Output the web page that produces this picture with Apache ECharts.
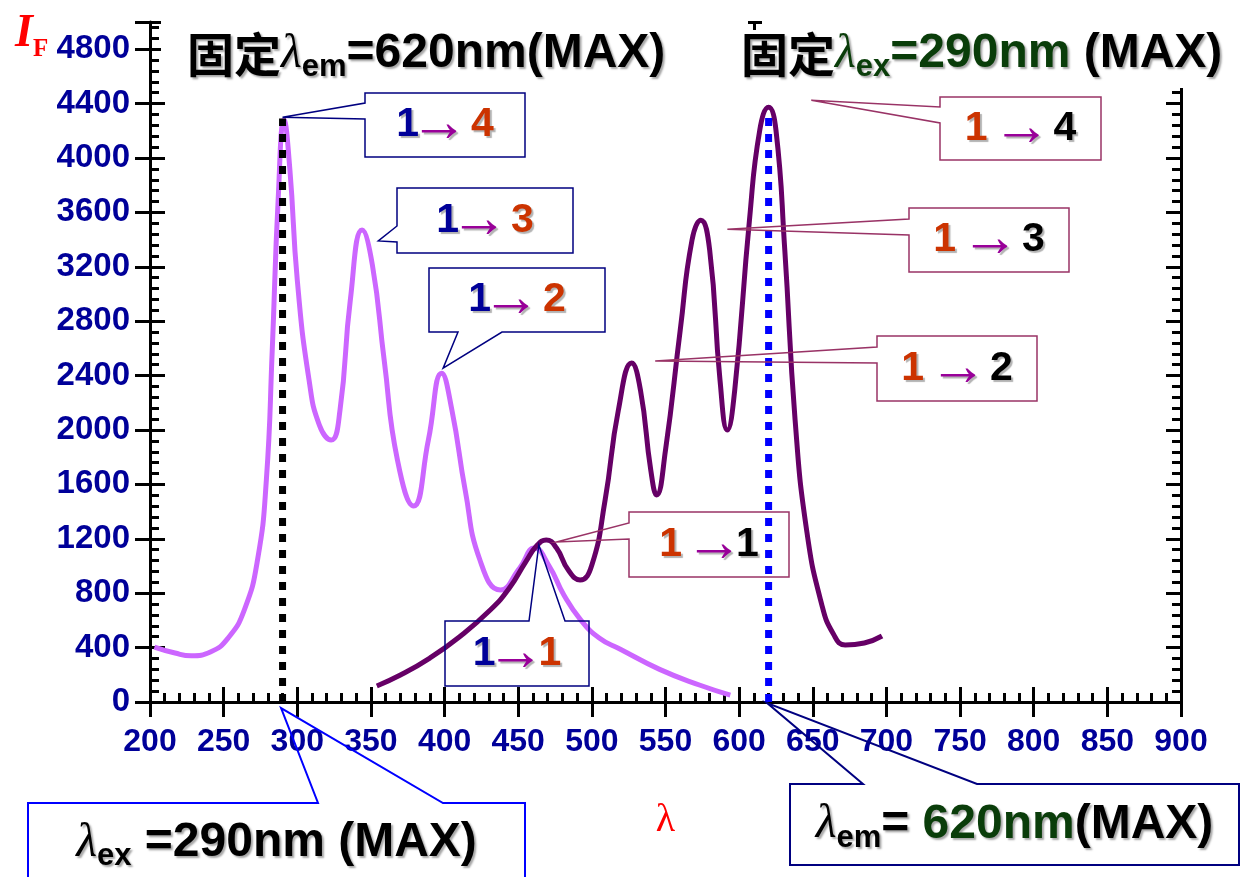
<!DOCTYPE html>
<html><head><meta charset="utf-8">
<script src="https://cdn.jsdelivr.net/npm/echarts@6/dist/echarts.min.js"></script>
<style>html,body{margin:0;padding:0;background:#fff}#c{width:1242px;height:877px}</style>
</head><body><div id="c"></div>
<script>
// ---- data ----
const xMin = 200, xMax = 900, xStep = 50;
const yMin = 0, yMax = 5000, yStep = 400;
// excitation spectrum (fixed λem = 620 nm)
const exWavelength = [203,217,228,241,253,264,273,279,283,287,291,295,300,308,315,323,329,336,344,351,359,368,379,389,398,405,414,424,438,451,461,471,481,492,505,519,546,573,594];
const exIntensity  = [404,360,340,368,470,676,1044,1632,2587,3690,4280,3911,3102,2367,2036,1926,2146,2955,3470,3212,2514,1779,1441,1926,2418,2146,1558,1044,823,985,1132,1000,787,610,470,390,240,125,51];
// emission spectrum (fixed λex = 290 nm)
const emWavelength = [354,370,390,410,431,444,455,463,469,476,484,492,500,509,518,527,533,540,544,550,560,568,574,580,587,592,597,607,614,620,625,631,638,646,656,664,672,685,697];
const emIntensity  = [118,198,323,478,676,838,1029,1154,1191,1132,970,897,1007,1485,2146,2492,2293,1705,1522,1852,2734,3396,3543,3322,2367,2000,2293,3543,4205,4374,4205,3322,2073,1250,720,500,419,434,485];
// maxima markers
const exMaxWavelength = 290, exMaxIntensity = 4290;
const emMaxWavelength = 620, emMaxIntensity = 4340;
// callout anchor points [wavelength, intensity]
const calloutTips = {
  L4:[290,4300], L3:[355,3390], L2:[399,2455], L1:[464,1155],
  EX:[289,-45], EM:[619,-7],
  R4:[649,4425], R3:[592,3477], R2:[543,2507], R1:[476,1176]
};

// ---- chart ----
const chart = echarts.init(document.getElementById('c'));
const SANS = "'Liberation Sans', Arial, sans-serif";
const SERIF = "'Liberation Serif', 'Times New Roman', serif";
const CJK = "'Noto Sans CJK SC', sans-serif";
const pair = (xs, ys) => xs.map((x, i) => [x, ys[i]]);
const tickStyle = {color:'#000', width:3};
const xCommon = {type:'value', min:xMin, max:xMax, interval:xStep, splitLine:{show:false}};
const yCommon = {type:'value', min:yMin, max:yMax, interval:yStep, splitLine:{show:false}};

chart.setOption({
  animation:false,
  backgroundColor:'#fff',
  grid:{left:150, right:61, top:22, bottom:175, outerBoundsMode:'none'},
  xAxis:[
    Object.assign({}, xCommon, {position:'bottom',
      axisLine:{onZero:false, lineStyle:tickStyle},
      axisTick:{inside:true, length:15, lineStyle:tickStyle},
      minorTick:{show:true, splitNumber:5, length:9, lineStyle:tickStyle},
      axisLabel:{color:'#000099', fontFamily:SANS, fontWeight:'bold', fontSize:32, margin:24,
        formatter:v => String(v)},
      name:'λ', nameLocation:'middle', nameGap:98,
      nameTextStyle:{color:'#ff0000', fontFamily:SERIF, fontSize:40}}),
    Object.assign({}, xCommon, {position:'bottom',
      axisLine:{show:false, onZero:false},
      axisTick:{inside:false, length:15, lineStyle:tickStyle},
      axisLabel:{show:false}}),
    Object.assign({}, xCommon, {position:'top',
      axisLine:{onZero:false, lineStyle:tickStyle},
      axisTick:{inside:true, length:12, lineStyle:tickStyle},
      minorTick:{show:true, splitNumber:5, length:8, lineStyle:tickStyle},
      axisLabel:{show:false}})
  ],
  yAxis:[
    Object.assign({}, yCommon, {position:'left',
      axisLine:{onZero:false, lineStyle:tickStyle},
      axisTick:{inside:true, length:15, lineStyle:tickStyle},
      minorTick:{show:true, splitNumber:5, length:9, lineStyle:tickStyle},
      axisLabel:{color:'#000099', fontFamily:SANS, fontWeight:'bold', fontSize:33, margin:20, showMaxLabel:false,
        formatter:v => String(v)}}),
    Object.assign({}, yCommon, {position:'left',
      axisLine:{show:false, onZero:false},
      axisTick:{inside:false, length:15, lineStyle:tickStyle},
      axisLabel:{show:false}}),
    Object.assign({}, yCommon, {position:'right',
      axisLine:{onZero:false, lineStyle:tickStyle},
      axisTick:{inside:true, length:15, lineStyle:tickStyle},
      minorTick:{show:true, splitNumber:5, length:9, lineStyle:tickStyle},
      axisLabel:{show:false}})
  ],
  series:[
    {type:'line', name:'excitation', data:pair(exWavelength, exIntensity), smooth:0.5, symbol:'none',
     lineStyle:{color:'#CC66FF', width:5}, z:2},
    {type:'line', name:'emission', data:pair(emWavelength, emIntensity), smooth:0.5, symbol:'none',
     lineStyle:{color:'#660066', width:5}, z:3},
    {type:'line', name:'exMax', data:[[exMaxWavelength, 0],[exMaxWavelength, exMaxIntensity]], symbol:'none',
     lineStyle:{color:'#000000', width:7, type:[8,8], cap:'butt'}, z:4},
    {type:'line', name:'emMax', data:[[emMaxWavelength, 0],[emMaxWavelength, emMaxIntensity]], symbol:'none',
     lineStyle:{color:'#0000FF', width:7, type:[8,8], cap:'butt'}, z:4}
  ]
});

// ---- annotations ----
const shadow = {textShadowColor:'rgba(0,0,0,0.35)', textShadowOffsetX:2, textShadowOffsetY:2, textShadowBlur:2};
const big = (fill, extra) => Object.assign({fill, fontFamily:SANS, fontWeight:'bold', fontSize:48}, shadow, extra||{});
const richTitle = {
  cn: Object.assign({fill:'#000', fontFamily:CJK, fontWeight:'bold', fontSize:47}, shadow),
  lam: Object.assign({fill:'#000', fontFamily:SERIF, fontStyle:'italic', fontSize:48}, shadow),
  lamg: Object.assign({fill:'#0a3d0a', fontFamily:SERIF, fontStyle:'italic', fontSize:48}, shadow),
  sub: big('#000', {fontSize:31, padding:[27,0,0,0]}),
  subg: big('#0a3d0a', {fontSize:31, padding:[27,0,0,0]}),
  t: big('#000'),
  tg: big('#0a3d0a')
};
const cShadow = {textShadowColor:'rgba(0,0,0,0.3)', textShadowOffsetX:2, textShadowOffsetY:2, textShadowBlur:1};
const arrowStyle = (l, r) => Object.assign({fill:'#990099', fontFamily:SANS, fontWeight:'normal', fontSize:58,
  lineHeight:41, width:40, padding:[0, r, 0, l]}, cShadow);
const richCallout = {
  n: Object.assign({fill:'#000099', fontFamily:SANS, fontWeight:'bold', fontSize:41}, cShadow),
  o: Object.assign({fill:'#CC3300', fontFamily:SANS, fontWeight:'bold', fontSize:41}, cShadow),
  k: Object.assign({fill:'#000000', fontFamily:SANS, fontWeight:'bold', fontSize:41}, cShadow),
  a: arrowStyle(0, 12),
  ar: arrowStyle(14, 12),
  at: arrowStyle(0, 3),
  ar1: arrowStyle(12, 2)
};
const NAVY = '#000080', MAROON = '#993366', BLUE = '#0000FF';
const callouts = [
  {id:'L4', box:[365,93,160,64], edge:'left', base:[103,119], stroke:NAVY, lw:1.5, text:'{n|1}{a|→}{o|4}', rich:richCallout},
  {id:'L3', box:[397,188,176,65], edge:'left', base:[226,242], stroke:NAVY, lw:1.5, text:'{n|1}{a|→}{o|3}', rich:richCallout},
  {id:'L2', box:[429,268,176,64], edge:'bottom', base:[458,502], stroke:NAVY, lw:1.5, text:'{n|1}{a|→}{o|2}', rich:richCallout},
  {id:'L1', box:[445,621,144,65], edge:'top', base:[529,565], stroke:NAVY, lw:1.5, text:'{n|1}{at|→}{o|1}', rich:richCallout},
  {id:'R4', box:[940,97,161,63], edge:'left', base:[107,123], stroke:MAROON, lw:1.5, text:'{o|1}{ar|→}{k|4}', rich:richCallout},
  {id:'R3', box:[909,208,160,64], edge:'left', base:[219,235], stroke:MAROON, lw:1.5, text:'{o|1}{ar|→}{k|3}', rich:richCallout},
  {id:'R2', box:[877,336,160,65], edge:'left', base:[347,363], stroke:MAROON, lw:1.5, text:'{o|1}{ar|→}{k|2}', rich:richCallout},
  {id:'R1', box:[629,512,160,65], edge:'left', base:[523,539], stroke:MAROON, lw:1.5, text:'{o|1}{ar1|→}{k|1}', rich:richCallout},
  {id:'EX', box:[28,803,497,100], edge:'top', base:[318,443], stroke:BLUE, lw:2, text:'{lam|λ}{sub|ex}{t| =290nm (MAX)}', rich:richTitle, textY:843},
  {id:'EM', box:[790,784,449,81], edge:'top', base:[863,977], stroke:NAVY, lw:2, text:'{lam|λ}{sub|em}{t|= }{tg|620nm}{t|(MAX)}', rich:richTitle}
];
function outline(c, tip){
  const [x0,y0,w,h] = c.box, x1 = x0+w, y1 = y0+h, [b1,b2] = c.base;
  if (c.edge === 'left') return [[x0,y0],[x1,y0],[x1,y1],[x0,y1],[x0,b2],tip,[x0,b1]];
  if (c.edge === 'top') return [[x0,y0],[b1,y0],tip,[b2,y0],[x1,y0],[x1,y1],[x0,y1]];
  return [[x0,y0],[x1,y0],[x1,y1],[b2,y1],tip,[b1,y1],[x0,y1]];
}
const gfx = [
  // white title boxes (they hide the top frame like in the slide)
  {type:'rect', shape:{x:161,y:0,width:587,height:88}, style:{fill:'#fff'}, z:50},
  {type:'rect', shape:{x:762,y:0,width:480,height:88}, style:{fill:'#fff'}, z:50},
  {type:'text', z:60, style:{x:187, y:54, align:'left', verticalAlign:'middle',
    text:'{cn|固定}{lam|λ}{sub|em}{t|=620nm(MAX)}', rich:richTitle}},
  {type:'text', z:60, style:{x:741, y:54, align:'left', verticalAlign:'middle',
    text:'{cn|固定}{lamg|λ}{subg|ex}{tg|=290nm}{t| (MAX)}', rich:richTitle}},
  {type:'text', z:60, style:{x:15, y:7, align:'left', verticalAlign:'top',
    text:'{i|I}{f|F}', rich:{
      i:{fill:'#ff0000', fontFamily:SERIF, fontWeight:'bold', fontStyle:'italic', fontSize:46},
      f:{fill:'#ff0000', fontFamily:SERIF, fontWeight:'bold', fontSize:25, padding:[30,0,0,0]}}}}
];
callouts.forEach(c => {
  const tip = chart.convertToPixel({seriesIndex:0}, calloutTips[c.id]);
  gfx.push({type:'polygon', z:70, shape:{points:outline(c, tip)},
    style:{fill:'none', stroke:c.stroke, lineWidth:c.lw}});
  const [x0,y0,w,h] = c.box;
  gfx.push({type:'text', z:71, style:{x:x0+w/2, y:c.textY || (y0+h/2), align:'center', verticalAlign:'middle',
    text:c.text, rich:c.rich}});
});
chart.setOption({graphic:gfx});
</script>
</body></html>
